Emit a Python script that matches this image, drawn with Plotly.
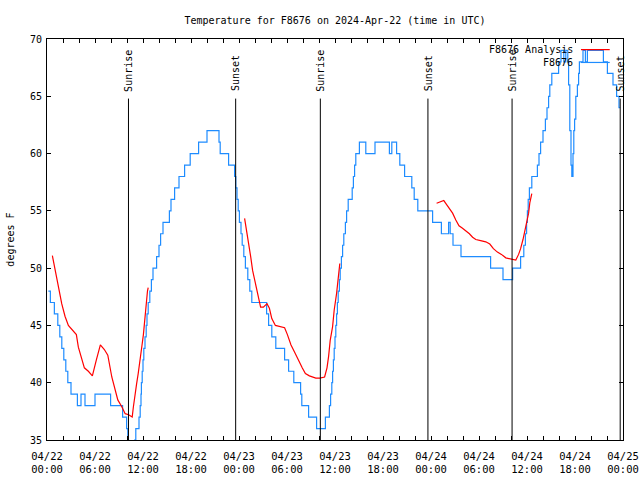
import pandas as pd
import plotly.graph_objects as go

# ---------------- data (hours after 2024-04-22 00:00 UTC) ----------------
obs_hours = [0.17, 0.42, 0.92, 1.35, 1.6, 1.85, 2.1, 2.35, 2.6, 3.0,
             3.8, 4.25, 4.75, 6.0, 7.95, 9.45, 9.95, 10.1, 10.2,
             10.95, 11.1, 11.5, 11.65, 11.75, 11.8, 11.9, 12.0, 12.1, 12.25, 12.4, 12.5, 12.65,
             12.85, 13.05, 13.25, 13.7, 14.0, 14.2, 14.5, 15.3, 15.5, 15.95, 16.5, 17.2, 17.9,
             18.95, 20.0, 21.5, 21.65, 22.7, 23.45, 23.6, 23.75, 23.9, 24.05, 24.25, 24.4, 24.6,
             24.8, 25.1, 25.35, 25.6, 27.45, 27.7, 28.1, 28.6, 29.7, 30.2, 30.85, 31.7, 31.85,
             32.7, 33.7, 34.8, 35.3, 35.45, 35.6, 35.7, 35.8, 35.9, 36.0, 36.1, 36.2, 36.3, 36.4,
             36.55, 36.65, 36.8, 36.95, 37.1, 37.3, 37.45, 37.65, 38.15, 38.3, 38.45, 38.6, 39.05,
             39.85, 41.0, 42.8, 43.1, 43.7, 44.1, 44.7, 45.6, 45.9, 46.35,
             48.2, 49.3, 50.2, 50.4, 50.75, 51.75, 55.45, 57.0, 58.2, 59.2, 59.6, 59.8, 59.95,
             60.05, 60.15, 60.3, 60.6, 61.3, 61.5, 61.7, 62.0, 62.3, 62.5, 62.7, 62.85, 63.1,
             63.95, 64.25, 64.6, 64.85, 65.1, 65.2, 65.35, 65.5, 65.6, 65.75, 65.85, 65.95, 66.1,
             66.3, 66.45, 66.55, 67.0, 67.3, 67.55, 69.55, 70.05, 70.75, 71.2, 71.5, 71.65]
obs_temps = [48, 47, 46, 45, 44, 43, 42, 41, 40, 39,
             38, 39, 38, 39, 38, 37, 36, 35, 34,
             35, 36, 37, 38, 39, 40, 41, 42, 43, 44, 45, 46, 47,
             48, 49, 50, 51, 52, 53, 54, 55, 56, 57, 58, 59, 60,
             61, 62, 61, 60, 59, 58, 57, 56, 55, 54, 53, 52, 51,
             50, 49, 48, 47, 46, 45, 44, 43, 42, 41, 40, 39, 38,
             37, 36, 37, 38, 39, 40, 41, 42, 43, 44, 45, 46, 47, 48,
             49, 50, 51, 52, 53, 54, 55, 56, 57, 58, 59, 60, 61,
             60, 61, 60, 61, 60, 59, 58, 57, 56, 55,
             54, 53, 54, 53, 52, 51, 50, 49, 50, 51, 52, 53, 54,
             55, 56, 57, 58, 59, 60, 61, 62, 63, 64, 65, 66, 67,
             68, 69, 68, 69, 68, 66, 62, 59, 58, 60, 62, 63, 65,
             66, 67, 68, 69, 68, 69, 68, 67, 66, 65, 64, 64]

ana_hours = [0.67, 1.0, 1.42, 1.84, 2.25, 2.67, 3.67, 3.92, 4.34, 4.67, 5.17, 5.67, 6.17,
             6.67, 7.17, 7.6, 8.1, 8.5, 8.85, 9.35, 9.77, 10.2, 10.65, 10.8, 11.0, 11.2, 11.4,
             11.65, 11.9, 12.05, 12.2, 12.4, 12.56, 12.65, None,
             24.7, 24.96, 25.2, 25.46, 25.7, 25.96, 26.2, 26.5, 26.7, 27.05, 27.5, 27.8, 28.1,
             28.55, 29.2, 29.7, 30.05, 30.5, 31.0, 31.5, 31.9, 32.3, 32.8, 33.6, 34.1, 34.7,
             35.0, 35.2, 35.4, 35.7, 35.9, 36.2, 36.4, 36.6, None,
             48.7, 49.2, 49.6, 49.8, 50.25, 50.7, 51.1, 51.5, 51.9, 52.3, 52.8, 53.2, 53.6,
             54.2, 54.85, 55.35, 55.8, 56.3, 56.8, 57.35, 57.85, 58.3, 58.6, 58.95, 59.2, 59.5,
             59.85, 60.0, 60.2, 60.35, 60.6]
ana_temps = [51.1, 49.8, 48.4, 46.9, 45.8, 45.0, 44.2, 43.1, 42.0, 41.3, 41.0, 40.6, 42.0,
             43.3, 42.9, 42.4, 40.5, 39.4, 38.5, 37.9, 37.3, 37.2, 37.0, 37.9, 39.2, 39.9, 40.8,
             41.9, 43.4, 44.2, 45.5, 46.5, 48.0, 48.3, None,
             54.35, 53.3, 52.2, 51.0, 49.8, 49.0, 48.1, 47.2, 46.6, 46.6, 46.9, 46.5, 45.6,
             45.0, 44.9, 44.8, 44.2, 43.3, 42.6, 41.8, 41.3, 40.8, 40.6, 40.4, 40.4, 40.5,
             41.3, 42.3, 43.7, 44.9, 46.35, 47.8, 49.0, 50.4, None,
             55.66, 55.8, 55.9, 55.7, 55.2, 54.8, 54.2, 53.7, 53.5, 53.3, 53.0, 52.7, 52.5,
             52.4, 52.3, 52.1, 51.7, 51.4, 51.2, 50.9, 50.8, 50.7, 50.7, 51.2, 51.7, 52.5,
             53.6, 54.2, 54.8, 55.7, 56.5]

sun_times = ["2024-04-22 10:11", "2024-04-22 23:35", "2024-04-23 10:10",
             "2024-04-23 23:37", "2024-04-24 10:08", "2024-04-24 23:39"]
sun_labels = ["Sunrise", "Sunset", "Sunrise", "Sunset", "Sunrise", "Sunset"]

tick_hours = list(range(0, 73, 2))
series_names = ["F8676 Analysis", "F8676"]
title_text = "Temperature for F8676 on 2024-Apr-22 (time in UTC)"
y_label = "degrees F"

# ---------------- figure ----------------
base = pd.Timestamp("2024-04-22 00:00")


def to_time(hs):
    return [None if h is None else base + pd.Timedelta(hours=h) for h in hs]


FONT = "DejaVu Sans Mono"
BLUE = "#1E8CFF"
RED = "#FF0000"

fig = go.Figure()
fig.add_trace(go.Scatter(x=to_time(obs_hours), y=obs_temps, mode="lines",
                         line=dict(color=BLUE, width=1.2, shape="hv"),
                         name=series_names[1], showlegend=False))
fig.add_trace(go.Scatter(x=to_time(ana_hours), y=ana_temps, mode="lines",
                         line=dict(color=RED, width=1.2), connectgaps=False,
                         name=series_names[0], showlegend=False))

for t, lab in zip(sun_times, sun_labels):
    fig.add_shape(type="line", xref="x", yref="y", x0=t, x1=t, y0=35, y1=64.8,
                  line=dict(color="black", width=1))
    fig.add_annotation(x=t, y=65.25, xref="x", yref="y", text=lab, textangle=-90,
                       showarrow=False, xanchor="center", yanchor="bottom",
                       font=dict(family=FONT, size=10, color="black"))

# legend (gnuplot style: text then sample line)
leg_y = [0.9735, 0.9415]
leg_col = [RED, BLUE]
for name, yy, col in zip(series_names, leg_y, leg_col):
    fig.add_annotation(x=0.917, y=yy, xref="paper", yref="paper", text=name,
                       showarrow=False, xanchor="right", yanchor="middle",
                       font=dict(family=FONT, size=10, color="black"))
    fig.add_shape(type="line", xref="paper", yref="paper", x0=0.927, x1=0.977,
                  y0=yy, y1=yy, line=dict(color=col, width=1.2))

fig.add_annotation(x=-0.064, y=0.5, xref="paper", yref="paper", text=y_label,
                   textangle=-90, showarrow=False, xanchor="center", yanchor="middle",
                   font=dict(family=FONT, size=10, color="black"))

tickvals = to_time(tick_hours)
ticktext = []
for h, tv in zip(tick_hours, tickvals):
    ticktext.append(tv.strftime("%m/%d") + "<br>" + tv.strftime("%H:%M") if h % 6 == 0 else "")

fig.update_layout(
    width=640, height=480,
    margin=dict(l=47, r=17, t=39, b=40),
    paper_bgcolor="white", plot_bgcolor="white",
    font=dict(family=FONT, size=10, color="black"),
    title=dict(text=title_text, x=0.5234, xanchor="center", y=0.958, yanchor="middle",
               font=dict(family=FONT, size=10, color="black")),
    xaxis=dict(range=[base, base + pd.Timedelta(hours=72)], tickmode="array",
               tickvals=tickvals, ticktext=ticktext, ticks="inside", ticklen=4,
               tickcolor="black", showline=True, linecolor="black", linewidth=1,
               mirror="allticks", showgrid=False, zeroline=False, automargin=False,
               ticklabelstandoff=6, tickfont=dict(family=FONT, size=10.5)),
    yaxis=dict(range=[35, 70], tickmode="array", tickvals=[35, 40, 45, 50, 55, 60, 65, 70],
               ticks="inside", ticklen=4, tickcolor="black", showline=True,
               linecolor="black", linewidth=1, mirror="allticks", showgrid=False,
               zeroline=False, automargin=False, ticklabelstandoff=2,
               tickfont=dict(family=FONT, size=10)),
    showlegend=False,
)

fig.write_html("out.html", config={"displayModeBar": False},
               post_script="document.body.style.margin='0';")
